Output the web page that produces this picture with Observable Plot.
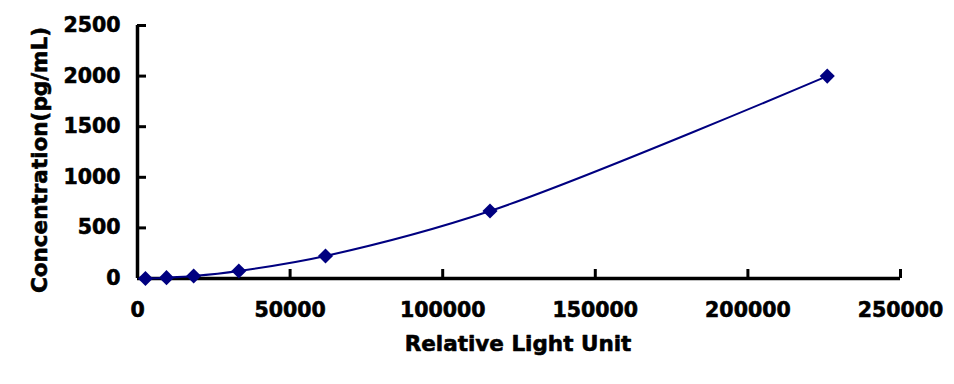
<!DOCTYPE html>
<html>
<head>
<meta charset="utf-8">
<script src="https://cdn.jsdelivr.net/npm/d3@7"></script>
<script src="https://cdn.jsdelivr.net/npm/@observablehq/plot@0.6"></script>
<style>
  html, body { margin: 0; padding: 0; background: #fff; }
  #chart { width: 954px; height: 384px; }
</style>
</head>
<body>
<div id="chart"></div>
<script>
// Data
const rlu = [2600, 9500, 18400, 33200, 61600, 115500, 226000];
const concentration = [0, 8.23, 24.69, 74.07, 222.22, 666.67, 2000];
const xTicks = [0, 50000, 100000, 150000, 200000, 250000];
const yTicks = [0, 500, 1000, 1500, 2000, 2500];
const xLabel = "Relative Light Unit";
const yLabel = "Concentration(pg/mL)";

const points = rlu.map((x, i) => ({x, y: concentration[i]}));

const W = 954, H = 384;
const mL = 137, mR = 54, mT = 25, mB = 106;
const plotH = H - mT - mB;
const plotW = W - mL - mR;
const navy = "#000080";
const font = "'DejaVu Sans', sans-serif";

const chart = Plot.plot({
  width: W,
  height: H,
  marginLeft: mL,
  marginRight: mR,
  marginTop: mT,
  marginBottom: mB,
  style: {fontFamily: font, background: "#fff", color: "#000"},
  x: {domain: [0, 250000]},
  y: {domain: [0, 2500]},
  marks: [
    // inward ticks
    Plot.tickX(xTicks, {x: d => d, stroke: "#000", strokeWidth: 3, insetTop: plotH - 9}),
    Plot.tickY(yTicks, {y: d => d, stroke: "#000", strokeWidth: 3, insetRight: plotW - 9}),
    // axis lines
    Plot.ruleY([0], {stroke: "#000", strokeWidth: 3.5}),
    Plot.ruleX([0], {stroke: "#000", strokeWidth: 3.5}),
    Plot.axisX(xTicks, {
      tickSize: 0, tickPadding: 24, fontSize: 20.5, fontWeight: "bold",
      tickFormat: d => String(d), label: null
    }),
    Plot.axisY(yTicks, {
      tickSize: 0, tickPadding: 17, fontSize: 20.5, fontWeight: "bold",
      tickFormat: d => String(d), label: null
    }),
    Plot.text([xLabel], {
      frameAnchor: "bottom", dx: -1, dy: 66, fontSize: 21.5, fontWeight: "bold",
      fill: "#000", stroke: "#000", strokeWidth: 0.6, textAnchor: "middle", lineAnchor: "middle"
    }),
    Plot.text([yLabel], {
      frameAnchor: "left", rotate: -90, dx: -97, dy: 8, fontSize: 21.5, fontWeight: "bold",
      fill: "#000", stroke: "#000", strokeWidth: 0.6, textAnchor: "middle", lineAnchor: "middle"
    }),
    Plot.line(points, {x: "x", y: "y", curve: "catmull-rom", stroke: navy, strokeWidth: 2}),
    Plot.dot(points, {x: "x", y: "y", symbol: "diamond2", r: 6.8, fill: navy, stroke: "none"})
  ]
});

// Force the heavy, larger face of the reference on the tick labels
d3.select(chart).selectAll("g[aria-label*='tick label']")
  .style("font-size", "20.5px").style("font-weight", "bold")
  .attr("stroke", "#000").attr("stroke-width", 0.6);

document.getElementById("chart").appendChild(chart);
</script>
</body>
</html>
